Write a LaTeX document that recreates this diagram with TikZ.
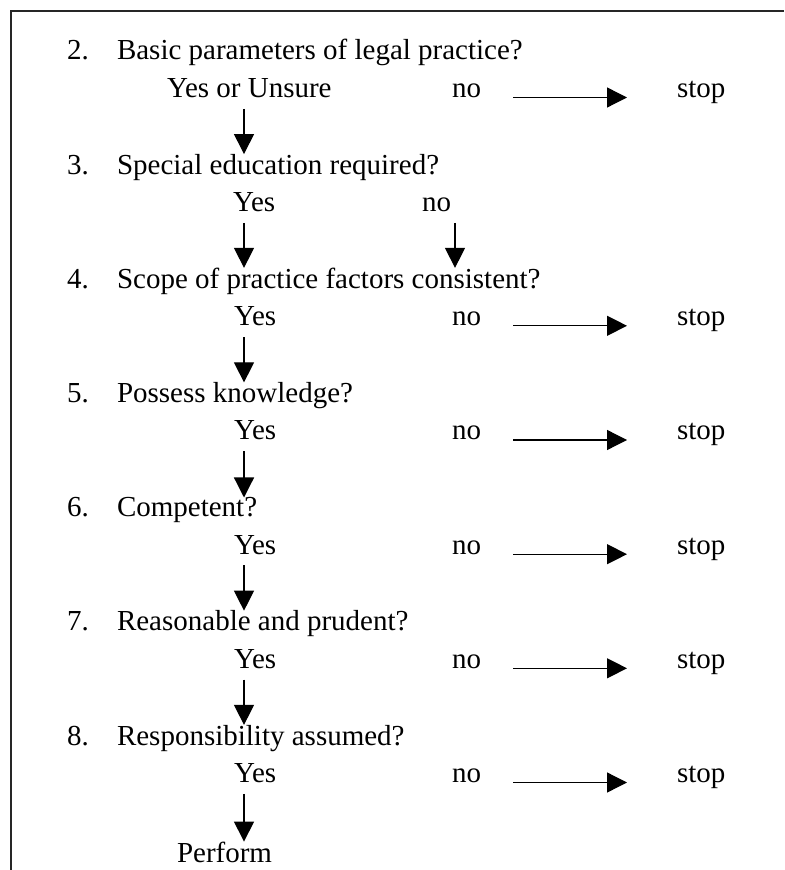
\documentclass[tikz,border=0pt]{standalone}
\usepackage{fontspec}
\setmainfont{Liberation Serif}
\usetikzlibrary{arrows.meta}

\tikzset{
  txt/.style={anchor=base west, inner sep=0pt, outer sep=0pt},
  down/.style={-{Triangle[length=8pt,width=8pt]}, line width=0.5pt, shorten <=4.4pt},
  tostop/.style={-{Triangle[length=8pt,width=8pt]}, line width=0.5pt, shorten <=12.8pt, shorten >=20pt},
}

\begin{document}
\begin{tikzpicture}[x=0.4pt, y=-0.4pt, font=\fontsize{11.6}{14}\selectfont]
\useasboundingbox (0,0) rectangle (784,870);
% frame (top and left only)
\draw[line width=0.7pt, black!85] (784,11) -- (11,11) -- (11,870);
\coordinate (col) at (244,0);
\coordinate (colno) at (455,0);

% 2
\node[txt] (n2) at (67,60) {2.};
\node[txt] (q2) at (117,60) {Basic parameters of legal practice?};
\node[txt] (yes2) at (167,97.5) {Yes or Unsure};
\node[txt] (no2) at (452,97.5) {no};
\node[txt] (stop2) at (677,97.5) {stop};

% 3
\node[txt] (n3) at (67,174.2) {3.};
\node[txt] (q3) at (117,174.2) {Special education required?};
\node[txt] (yes3) at (233,211.7) {Yes};
\node[txt] (no3) at (422,211.7) {no};

% 4
\node[txt] (n4) at (67,288.3) {4.};
\node[txt] (q4) at (117,288.3) {Scope of practice factors consistent?};
\node[txt] (yes4) at (234,325.8) {Yes};
\node[txt] (no4) at (452,325.8) {no};
\node[txt] (stop4) at (677,325.8) {stop};

% 5
\node[txt] (n5) at (67,402.5) {5.};
\node[txt] (q5) at (117,402.5) {Possess knowledge?};
\node[txt] (yes5) at (234,440) {Yes};
\node[txt] (no5) at (452,440) {no};
\node[txt] (stop5) at (677,440) {stop};

% 6
\node[txt] (n6) at (67,516.7) {6.};
\node[txt] (q6) at (117,516.7) {Competent?};
\node[txt] (yes6) at (234,554.2) {Yes};
\node[txt] (no6) at (452,554.2) {no};
\node[txt] (stop6) at (677,554.2) {stop};

% 7
\node[txt] (n7) at (67,630.8) {7.};
\node[txt] (q7) at (117,630.8) {Reasonable and prudent?};
\node[txt] (yes7) at (234,668.3) {Yes};
\node[txt] (no7) at (452,668.3) {no};
\node[txt] (stop7) at (677,668.3) {stop};

% 8
\node[txt] (n8) at (67,745) {8.};
\node[txt] (q8) at (117,745) {Responsibility assumed?};
\node[txt] (yes8) at (234,782.5) {Yes};
\node[txt] (no8) at (452,782.5) {no};
\node[txt] (stop8) at (677,782.5) {stop};

\node[txt] (perform) at (177,862) {Perform};

% down arrows
\draw[down] (yes2.south -| col) -- (q3.north -| col);
\draw[down] (yes3.south -| col) -- (q4.north -| col);
\draw[down] (no3.south -| colno) -- (q4.north -| colno);
\draw[down] (yes4.south -| col) -- (q5.north -| col);
\draw[down] (yes5.south -| col) -- (q6.north -| col);
\draw[down] (yes6.south -| col) -- (q7.north -| col);
\draw[down] (yes7.south -| col) -- (q8.north -| col);
\draw[down] (yes8.south -| col) -- (perform.north -| col);

% no -> stop
\draw[tostop] (no2.base east) -- (stop2.base west);
\draw[tostop] (no4.base east) -- (stop4.base west);
\draw[tostop] (no5.base east) -- (stop5.base west);
\draw[tostop] (no6.base east) -- (stop6.base west);
\draw[tostop] (no7.base east) -- (stop7.base west);
\draw[tostop] (no8.base east) -- (stop8.base west);
\end{tikzpicture}
\end{document}
